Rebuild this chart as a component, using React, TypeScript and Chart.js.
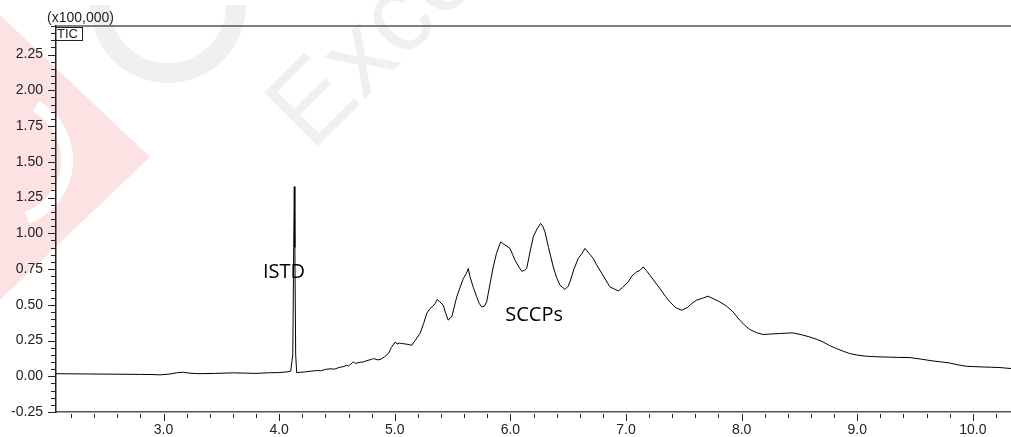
import React, { useEffect, useRef } from "react";
import { Chart, registerables } from "chart.js";

Chart.register(...registerables);

// Retention time (min)
const rt = [
  2.07, 2.2, 2.35, 2.5, 2.65, 2.8, 2.9, 2.97, 3.05, 3.12, 3.17, 3.22, 3.3, 3.45, 3.6, 3.7, 3.8, 3.9, 4.0, 4.06, 4.1,
  4.118, 4.126, 4.131, 4.136, 4.143, 4.152,
  4.18, 4.22, 4.28, 4.33, 4.36, 4.4, 4.44, 4.48, 4.52, 4.56, 4.585, 4.6, 4.642, 4.66, 4.7, 4.729, 4.76, 4.8, 4.815,
  4.85, 4.873, 4.91, 4.945, 4.97, 5.003, 5.02, 5.04, 5.061, 5.1, 5.147, 5.18, 5.219, 5.25, 5.277, 5.305, 5.33, 5.35,
  5.368, 5.39, 5.42, 5.44, 5.463, 5.48, 5.493, 5.51, 5.536, 5.56, 5.593, 5.62, 5.636, 5.651, 5.68, 5.709, 5.73,
  5.752, 5.775, 5.795, 5.82, 5.852, 5.88, 5.916, 5.94, 5.97, 5.997, 6.02, 6.04, 6.07, 6.098, 6.12, 6.141, 6.17,
  6.198, 6.23, 6.262, 6.28, 6.299, 6.33, 6.371, 6.4, 6.429, 6.472, 6.5, 6.515, 6.55, 6.587, 6.62, 6.645, 6.68,
  6.717, 6.745, 6.774, 6.82, 6.861, 6.9, 6.933, 6.97, 7.019, 7.05, 7.092, 7.12, 7.149, 7.18, 7.207, 7.25, 7.293,
  7.34, 7.38, 7.43, 7.481, 7.53, 7.57, 7.61, 7.66, 7.71, 7.76, 7.812, 7.87, 7.926, 7.984, 8.03, 8.071, 8.13, 8.186,
  8.26, 8.33, 8.4, 8.445, 8.52, 8.589, 8.65, 8.704, 8.76, 8.82, 8.88, 8.935, 9.0, 9.079, 9.15, 9.223, 9.35, 9.454,
  9.55, 9.655, 9.73, 9.799, 9.87, 9.944, 10.02, 10.087, 10.16, 10.234, 10.33,
];

// Intensity (x100,000)
const intensity = [
  0.018, 0.017, 0.016, 0.015, 0.014, 0.013, 0.012, 0.01, 0.015, 0.025, 0.028, 0.022, 0.018, 0.02, 0.024, 0.022, 0.02, 0.024, 0.026, 0.03, 0.035,
  0.15, 0.9, 1.326, 0.9, 0.15, 0.025,
  0.028, 0.03, 0.036, 0.04, 0.038, 0.048, 0.052, 0.05, 0.062, 0.068, 0.077, 0.072, 0.1, 0.09, 0.098, 0.1, 0.11, 0.118, 0.124,
  0.115, 0.117, 0.135, 0.159, 0.2, 0.24, 0.225, 0.232, 0.229, 0.225, 0.217, 0.255, 0.3, 0.37, 0.44, 0.474, 0.49, 0.51,
  0.537, 0.52, 0.497, 0.44, 0.392, 0.41, 0.415, 0.47, 0.555, 0.61, 0.684, 0.72, 0.754, 0.695, 0.62, 0.555, 0.51,
  0.485, 0.49, 0.52, 0.63, 0.765, 0.86, 0.94, 0.925, 0.91, 0.894, 0.85, 0.812, 0.77, 0.735, 0.74, 0.754, 0.87,
  0.975, 1.03, 1.069, 1.05, 1.01, 0.9, 0.765, 0.69, 0.637, 0.607, 0.63, 0.66, 0.75, 0.824, 0.86, 0.894, 0.86,
  0.824, 0.78, 0.742, 0.68, 0.625, 0.61, 0.597, 0.62, 0.66, 0.7, 0.73, 0.74, 0.765, 0.735, 0.707, 0.66, 0.614,
  0.56, 0.52, 0.48, 0.462, 0.48, 0.51, 0.532, 0.545, 0.56, 0.54, 0.52, 0.49, 0.45, 0.392, 0.355, 0.327, 0.305, 0.292,
  0.296, 0.299, 0.302, 0.303, 0.29, 0.275, 0.258, 0.24, 0.215, 0.194, 0.175, 0.159, 0.148, 0.14, 0.137, 0.135, 0.132, 0.131,
  0.12, 0.107, 0.1, 0.093, 0.08, 0.07, 0.067, 0.065, 0.063, 0.061, 0.054,
];

// Axis tick labels
const xTickValues = [3, 4, 5, 6, 7, 8, 9, 10];
const yTickValues = [-0.25, 0, 0.25, 0.5, 0.75, 1.0, 1.25, 1.5, 1.75, 2.0, 2.25];

// Peak annotations
const annotationText = ["ISTD", "SCCPs"];
const annotationRt = [4.042, 6.205];
const annotationValue = [0.73, 0.423];

const AXIS_FONT = "Liberation Sans, Arial, sans-serif";

const watermarkPlugin = {
  id: "watermark",
  beforeDraw(chart: any) {
    const ctx = chart.ctx;
    ctx.save();
    // pink triangle
    ctx.fillStyle = "#fde2e3";
    ctx.beginPath();
    ctx.moveTo(0, 15);
    ctx.lineTo(150, 157);
    ctx.lineTo(0, 300);
    ctx.closePath();
    ctx.fill();
    // white ring inside
    ctx.strokeStyle = "#ffffff";
    ctx.lineWidth = 12;
    ctx.beginPath();
    ctx.arc(5, 160, 62, -Math.PI / 3, Math.PI / 2.6);
    ctx.stroke();
    // gray arc at top
    ctx.strokeStyle = "rgba(0,0,0,0.06)";
    ctx.lineWidth = 20;
    ctx.beginPath();
    ctx.arc(168, 5, 68, 0, Math.PI);
    ctx.stroke();
    // gray rotated word
    ctx.translate(317, 147);
    ctx.rotate(-Math.PI / 4);
    ctx.fillStyle = "rgba(0,0,0,0.06)";
    ctx.font = "110px Liberation Sans, Arial, sans-serif";
    ctx.textBaseline = "alphabetic";
    ctx.fillText("Excellence", -8, 0);
    ctx.restore();
  },
};

const annotationPlugin = {
  id: "peakLabels",
  beforeDatasetsDraw(chart: any) {
    const ctx = chart.ctx;
    const xs = chart.scales.x;
    const ys = chart.scales.y;
    ctx.save();
    ctx.fillStyle = "#000";
    ctx.font = "20px 'Open Sans', sans-serif";
    ctx.textAlign = "center";
    ctx.textBaseline = "middle";
    annotationText.forEach((t, i) => {
      ctx.fillText(t, xs.getPixelForValue(annotationRt[i]), ys.getPixelForValue(annotationValue[i]));
    });
    ctx.restore();
  },
};

const axesPlugin = {
  id: "axesDeco",
  afterDraw(chart: any) {
    const ctx = chart.ctx;
    const xs = chart.scales.x;
    const ys = chart.scales.y;
    const area = chart.chartArea;
    ctx.save();
    // top frame line
    ctx.strokeStyle = "#555";
    ctx.lineWidth = 1.3;
    ctx.beginPath();
    ctx.moveTo(area.left, area.top);
    ctx.lineTo(chart.width, area.top);
    ctx.stroke();
    // y ticks (minor every 0.05)
    ctx.strokeStyle = "#222";
    ctx.lineWidth = 1;
    for (let i = 0; i <= 54; i++) {
      const v = -0.25 + i * 0.05;
      const y = Math.round(ys.getPixelForValue(v)) + 0.5;
      const len = i % 5 === 0 ? 8 : 5;
      ctx.beginPath();
      ctx.moveTo(area.left - len, y);
      ctx.lineTo(area.left, y);
      ctx.stroke();
    }
    // x ticks (minor every 0.2)
    for (let k = 11; k <= 51; k++) {
      const v = k * 0.2;
      const x = Math.round(xs.getPixelForValue(v)) + 0.5;
      const len = k % 5 === 0 ? 7 : 4;
      ctx.beginPath();
      ctx.moveTo(x, area.bottom + 2);
      ctx.lineTo(x, area.bottom + 2 + len);
      ctx.stroke();
    }
    // multiplier label
    ctx.fillStyle = "#222";
    ctx.font = "14px " + AXIS_FONT;
    ctx.textAlign = "left";
    ctx.textBaseline = "alphabetic";
    ctx.fillText("(x100,000)", 47, 22);
    // TIC box
    ctx.strokeStyle = "#222";
    ctx.lineWidth = 1;
    ctx.strokeRect(55.5, 27.5, 27, 13);
    ctx.font = "13px " + AXIS_FONT;
    ctx.textBaseline = "middle";
    ctx.fillText("TIC", 57, 34.5);
    ctx.restore();
  },
};

export default function App() {
  const canvasRef = useRef<HTMLCanvasElement | null>(null);

  useEffect(() => {
    if (!canvasRef.current) return;
    const points = rt.map((t, i) => ({ x: t, y: intensity[i] }));
    const chart = new Chart(canvasRef.current, {
      type: "line",
      data: {
        datasets: [
          {
            label: "TIC",
            data: points,
            borderColor: "#000",
            borderWidth: 1,
            pointRadius: 0,
            tension: 0,
            fill: false,
          },
        ],
      },
      options: {
        animation: false,
        responsive: false,
        layout: { padding: { top: 26, left: 0, right: 0, bottom: 0 } },
        plugins: { legend: { display: false }, tooltip: { enabled: false } },
        scales: {
          x: {
            type: "linear",
            min: 2.07,
            max: 10.33,
            grid: { display: false, drawTicks: false },
            border: { display: true, color: "#555", width: 1.5 },
            afterBuildTicks: (scale: any) => {
              scale.ticks = xTickValues.map((v) => ({ value: v }));
            },
            afterFit: (scale: any) => {
              scale.height = 25;
            },
            ticks: {
              autoSkip: false,
              maxRotation: 0,
              padding: 10,
              color: "#222",
              font: { family: AXIS_FONT, size: 14 },
              callback: (v: any) => Number(v).toFixed(1),
            },
          },
          y: {
            type: "linear",
            min: -0.25,
            max: 2.45,
            grid: { display: false, drawTicks: false },
            border: { display: true, color: "#222", width: 1.5 },
            afterBuildTicks: (scale: any) => {
              scale.ticks = yTickValues.map((v) => ({ value: v }));
            },
            afterFit: (scale: any) => {
              scale.width = 56;
            },
            ticks: {
              autoSkip: false,
              padding: 13,
              color: "#222",
              font: { family: AXIS_FONT, size: 14 },
              callback: (v: any) => Number(v).toFixed(2),
            },
          },
        },
      },
      plugins: [watermarkPlugin, annotationPlugin, axesPlugin],
    });
    return () => chart.destroy();
  }, []);

  return (
    <div style={{ position: "fixed", left: 0, top: 0, width: 1011, height: 437, background: "#fff" }}>
      <canvas ref={canvasRef} width={1011} height={437} style={{ display: "block" }} />
    </div>
  );
}
